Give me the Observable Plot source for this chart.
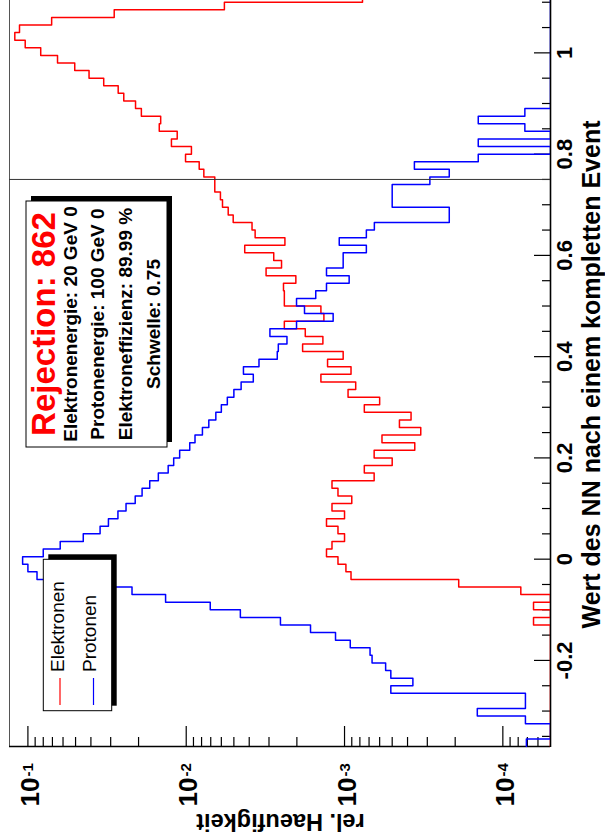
<!DOCTYPE html>
<html><head><meta charset="utf-8">
<script src="https://cdn.jsdelivr.net/npm/d3@7"></script>
<script src="https://cdn.jsdelivr.net/npm/@observablehq/plot@0.6"></script>
<style>
html,body{margin:0;padding:0;background:#fff;overflow:hidden;width:605px;height:834px;}
#rot{position:absolute;left:0;top:0;width:834px;height:605px;transform-origin:0 0;transform:translate(0px,834px) rotate(-90deg);}
</style></head><body><div id="rot"></div>
<script>
// ---- data ----
const binLow = -0.37, binWidth = 0.015;
const elektronen = [
 0,0,0,0,0,0,0,0,0,0,
 0,0,0,0,0,0,6.4e-5,0,6.4e-5,0,
 7.7e-5,1.9e-4,9.1e-4,9.8e-4,1.1e-3,1.3e-3,1.2e-3,1.0e-3,1.1e-3,1.3e-3,
 1.0e-3,1.2e-3,9e-4,1.1e-3,1.2e-3,6.5e-4,7.5e-4,5.0e-4,6.5e-4,3.6e-4,
 5.8e-4,3.3e-4,4.5e-4,3.8e-4,7.5e-4,6.0e-4,9.5e-4,8.5e-4,0.00141,0.00091,
 0.00128,0.00102,0.00184,0.00137,0.00177,0.0024,0.00135,0.00141,0.0024,0.0024,
 0.00243,0.00203,0.00313,0.0025,0.0028,0.00427,0.00238,0.00367,0.00384,0.00505,
 0.00543,0.0059,0.00608,0.0066,0.0066,0.00774,0.00828,0.0101,0.00927,0.0124,
 0.0114,0.0148,0.0145,0.0192,0.0209,0.0248,0.0269,0.0332,0.0411,0.0506,
 0.065,0.083,0.104,0.121,0.113,0.0708,0.0285,0.00574,0.00077
];
const protonen = [
 7.1e-5,0,0,7.2e-5,1.45e-4,7.2e-5,7.2e-5,5.1e-4,3.7e-4,5.1e-4,
 5.5e-4,6.7e-4,6.9e-4,9.2e-4,1.14e-3,1.64e-3,2.54e-3,4.55e-3,7.05e-3,0.0135,
 0.022,0.045,0.0876,0.1,0.108,0.08,0.0625,0.0447,0.035,0.031,
 0.027,0.024,0.021,0.019,0.017,0.015,0.013,0.012,0.011,0.0095,
 0.0088,0.0079,0.0072,0.0065,0.006,0.0055,0.005,0.0045,3.77e-3,4.35e-3,
 3.47e-3,2.66e-3,2.62e-3,2.31e-3,2.96e-3,2.01e-3,1.18e-3,1.79e-3,2.01e-3,1.52e-3,
 1.30e-3,9.35e-4,1.30e-3,1.02e-3,1.02e-3,7.28e-4,1.08e-3,7.28e-4,6.48e-4,2.18e-4,
 2.18e-4,5.0e-4,5.0e-4,5.0e-4,2.89e-4,2.18e-4,3.62e-4,1.43e-4,0,1.43e-4,
 0,7.26e-5,1.43e-4,7.26e-5,0,0,0,0,0,0,
 0,0,0,0,0,0,0,0,0
];
const xMajorTicks = [-0.2, 0, 0.2, 0.4, 0.6, 0.8, 1.0];
const xTickLabels = ["-0.2", "0", "0.2", "0.4", "0.6", "0.8", "1"];
const xMinorTicks = [-0.35,-0.3,-0.25,-0.15,-0.1,-0.05,0.05,0.1,0.15,0.25,0.3,0.35,0.45,0.5,0.55,0.65,0.7,0.75,0.85,0.9,0.95,1.05,1.1];
const yMajorTicks = [1e-1, 1e-2, 1e-3, 1e-4];
const yTickBase = "10";
const yTickExponents = ["-1", "-2", "-3", "-4"];
const yMinorTicks = [0.09,0.08,0.07,0.06,0.05,0.04,0.03,0.02,
  0.009,0.008,0.007,0.006,0.005,0.004,0.003,0.002,
  9e-4,8e-4,7e-4,6e-4,5e-4,4e-4,3e-4,2e-4,
  9e-5,8e-5,7e-5,6e-5];
const threshold = 0.75;
const seriesNames = ["Elektronen", "Protonen"];
const seriesColors = ["#ff0000", "#0000ff"];
const paveTitle = "Rejection: 862";
const paveLines = ["Elektronenergie: 20 GeV 0", "Protonenergie: 100 GeV 0", "Elektroneffizienz: 89.99 %", "Schwelle: 0.75"];
const xTitle = "Wert des NN nach einem kompletten Event";
const yTitle = "rel. Haeufigkeit";
const xDomain = [-0.37, 1.1054];
const yDomain = [5e-5, 0.1307];

// ---- build ----
function outline(vals, name) {
  const pts = [];
  vals.forEach((v, i) => {
    const y = v > yDomain[0] ? v : yDomain[0];
    pts.push({x: binLow + i * binWidth, y, s: name});
    pts.push({x: binLow + (i + 1) * binWidth, y, s: name});
  });
  return pts;
}
const W = 834, H = 605, mL = 87, mR = 0, mT = 9, mB = 55;
const FW = W - mL - mR, FH = H - mT - mB;
const font = "'Liberation Sans', Arial, Helvetica, sans-serif";

const chart = Plot.plot({
  width: W, height: H,
  marginLeft: mL, marginRight: mR, marginTop: mT, marginBottom: mB,
  style: {fontFamily: font, background: "white", overflow: "visible", color: "black"},
  x: {domain: xDomain, axis: null},
  y: {type: "log", domain: yDomain, axis: null},
  marks: [
    Plot.ruleY([yDomain[1]], {stroke: "#555", strokeWidth: 1}),
    Plot.ruleY([yDomain[0]], {stroke: "#000", strokeWidth: 1.6}),
    Plot.ruleX([xDomain[0]], {stroke: "#000", strokeWidth: 1.6}),
    Plot.tickX(xMajorTicks, {x: d => d, insetTop: FH - 16, stroke: "#000", strokeWidth: 1.2}),
    Plot.tickX(xMinorTicks, {x: d => d, insetTop: FH - 8, stroke: "#000", strokeWidth: 1.2}),
    Plot.tickY(yMajorTicks, {y: d => d, insetRight: FW - 21, stroke: "#000", strokeWidth: 1.2}),
    Plot.tickY(yMinorTicks, {y: d => d, insetRight: FW - 10, stroke: "#000", strokeWidth: 1.2}),
    Plot.line(outline(elektronen, seriesNames[0]), {x: "x", y: "y", stroke: seriesColors[0], strokeWidth: 1.5, clip: true}),
    Plot.line(outline(protonen, seriesNames[1]), {x: "x", y: "y", stroke: seriesColors[1], strokeWidth: 1.5, clip: true}),
    Plot.ruleX([threshold], {stroke: "#333", strokeWidth: 1}),
    Plot.text(xMajorTicks, {x: d => d, frameAnchor: "bottom", text: (d, i) => xTickLabels[i], dy: 21, lineAnchor: "bottom", textAnchor: "middle", fontSize: 22, fontWeight: "bold", fill: "#000"}),
    Plot.text(yMajorTicks, {y: d => d, frameAnchor: "left", text: () => yTickBase, dx: -31, dy: 11, lineAnchor: "bottom", textAnchor: "end", fontSize: 26, fontWeight: "bold", fill: "#000"}),
    Plot.text(yMajorTicks, {y: d => d, frameAnchor: "left", text: (d, i) => yTickExponents[i], dx: -30, dy: 5, lineAnchor: "bottom", textAnchor: "start", fontSize: 15, fontWeight: "bold", fill: "#000"}),
    Plot.text([xTitle], {frameAnchor: "bottom-right", dx: -121, dy: 49, lineAnchor: "bottom", textAnchor: "end", fontSize: 25, fontWeight: "bold", fill: "#000"}),
    Plot.text([yTitle], {frameAnchor: "top-left", dx: 20 - mL, dy: 280 - mT, rotate: -90, lineAnchor: "bottom", textAnchor: "middle", fontSize: 23.5, fontWeight: "bold", fill: "#000"})
  ]
});

// ---- legend & info box (layout overlays) ----
const svg = d3.select(chart);
const g = svg.append("g").attr("font-family", font).attr("text-anchor", "start");
function box(x, y, w, h, off) {
  g.append("rect").attr("x", x + off).attr("y", y + off).attr("width", w).attr("height", h).attr("fill", "#000");
  g.append("rect").attr("x", x).attr("y", y).attr("width", w).attr("height", h).attr("fill", "#fff").attr("stroke", "#000").attr("stroke-width", 1);
}
// legend
box(123.3, 43.3, 151.4, 68.4, 5);
const legRows = [60, 93.5];
const legBase = [63.5, 96];
seriesNames.forEach((name, i) => {
  g.append("line").attr("x1", 129).attr("x2", 156).attr("y1", legRows[i]).attr("y2", legRows[i]).attr("stroke", seriesColors[i]).attr("stroke-width", 1.2);
  g.append("text").attr("x", 162).attr("y", legBase[i]).attr("text-anchor", "start").attr("font-size", 19).attr("fill", "#000").text(name);
});
// info pave
box(387, 26, 246, 141, 5);
g.append("text").attr("x", 510).attr("y", 55).attr("text-anchor", "middle").attr("font-size", 33).attr("font-weight", "bold").attr("fill", "#ff0000").text(paveTitle);
const paveY = [77, 104, 132, 160];
paveLines.forEach((t, i) => {
  g.append("text").attr("x", 510).attr("y", paveY[i]).attr("text-anchor", "middle").attr("font-size", 19).attr("font-weight", "bold").attr("fill", "#000").text(t);
});

document.getElementById("rot").appendChild(chart);
</script></body></html>
